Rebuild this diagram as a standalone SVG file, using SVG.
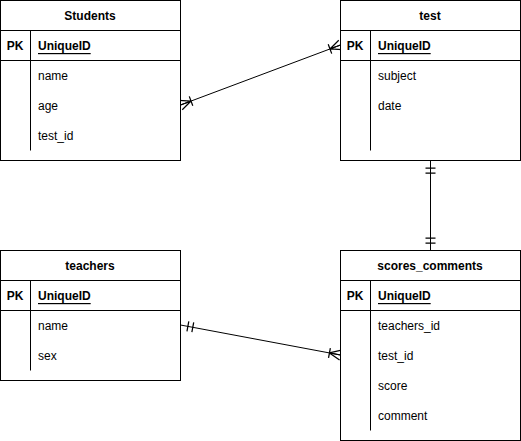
<svg xmlns="http://www.w3.org/2000/svg" width="521" height="441" viewBox="0 0 521 441">
<style>
.box{fill:#fff;stroke:#000;stroke-width:1}
.ln{stroke:#000;stroke-width:1;fill:none}
text{font-family:"Liberation Sans",Arial,sans-serif;font-size:12px;fill:#000;dominant-baseline:central}
.t{font-weight:bold;text-anchor:middle}
.pk{font-weight:bold;text-anchor:middle}
.id{font-weight:bold;text-decoration:underline}
.conn{stroke:#000;stroke-width:1;fill:none}
</style>
<defs>
<marker id="many" markerUnits="userSpaceOnUse" markerWidth="20" markerHeight="20" refX="0" refY="0" viewBox="-12 -8 14 16" orient="auto-start-reverse" overflow="visible">
<path d="M-9,0 L0,-4 M-9,0 L0,4 M-9,0 L0,0 M-9,-4 L-9,4" class="conn"/>
</marker>
<marker id="one" markerUnits="userSpaceOnUse" markerWidth="20" markerHeight="20" refX="0" refY="0" viewBox="-12 -8 14 16" orient="auto-start-reverse" overflow="visible">
<path d="M-6,-4 L-6,4 M-10,-4 L-10,4" class="conn"/>
</marker>
</defs>
<g id="connectors">
<path class="conn" d="M180.5,105 L340.5,45" marker-start="url(#many)" marker-end="url(#many)"/>
<path class="conn" d="M430.5,160.5 L430.5,250.5" marker-start="url(#one)" marker-end="url(#one)"/>
<path class="conn" d="M180.5,325 L340.5,355" marker-start="url(#one)" marker-end="url(#many)"/>
</g>
<g id="students">
<rect class="box" x="0.5" y="0.5" width="180" height="160"/>
<path class="ln" d="M0.5,30.5 H180.5 M0.5,60.5 H180.5 M30.5,30.5 V150.5"/>
<text class="t" x="90" y="16">Students</text>
<text class="pk" x="15" y="46">PK</text>
<text class="id" x="38" y="46">UniqueID</text>
<text x="38" y="76">name</text>
<text x="38" y="106">age</text>
<text x="38" y="136">test_id</text>
</g>
<g id="test">
<rect class="box" x="340.5" y="0.5" width="180" height="160"/>
<path class="ln" d="M340.5,30.5 H520.5 M340.5,60.5 H520.5 M370.5,30.5 V150.5"/>
<text class="t" x="430" y="16">test</text>
<text class="pk" x="355" y="46">PK</text>
<text class="id" x="378" y="46">UniqueID</text>
<text x="378" y="76">subject</text>
<text x="378" y="106">date</text>
</g>
<g id="teachers">
<rect class="box" x="0.5" y="250.5" width="180" height="130"/>
<path class="ln" d="M0.5,280.5 H180.5 M0.5,310.5 H180.5 M30.5,280.5 V370.5"/>
<text class="t" x="90" y="266">teachers</text>
<text class="pk" x="15" y="296">PK</text>
<text class="id" x="38" y="296">UniqueID</text>
<text x="38" y="326">name</text>
<text x="38" y="356">sex</text>
</g>
<g id="scores_comments">
<rect class="box" x="340.5" y="250.5" width="180" height="190"/>
<path class="ln" d="M340.5,280.5 H520.5 M340.5,310.5 H520.5 M370.5,280.5 V430.5"/>
<text class="t" x="430" y="266">scores_comments</text>
<text class="pk" x="355" y="296">PK</text>
<text class="id" x="378" y="296">UniqueID</text>
<text x="378" y="326">teachers_id</text>
<text x="378" y="356">test_id</text>
<text x="378" y="386">score</text>
<text x="378" y="416">comment</text>
</g>
</svg>
